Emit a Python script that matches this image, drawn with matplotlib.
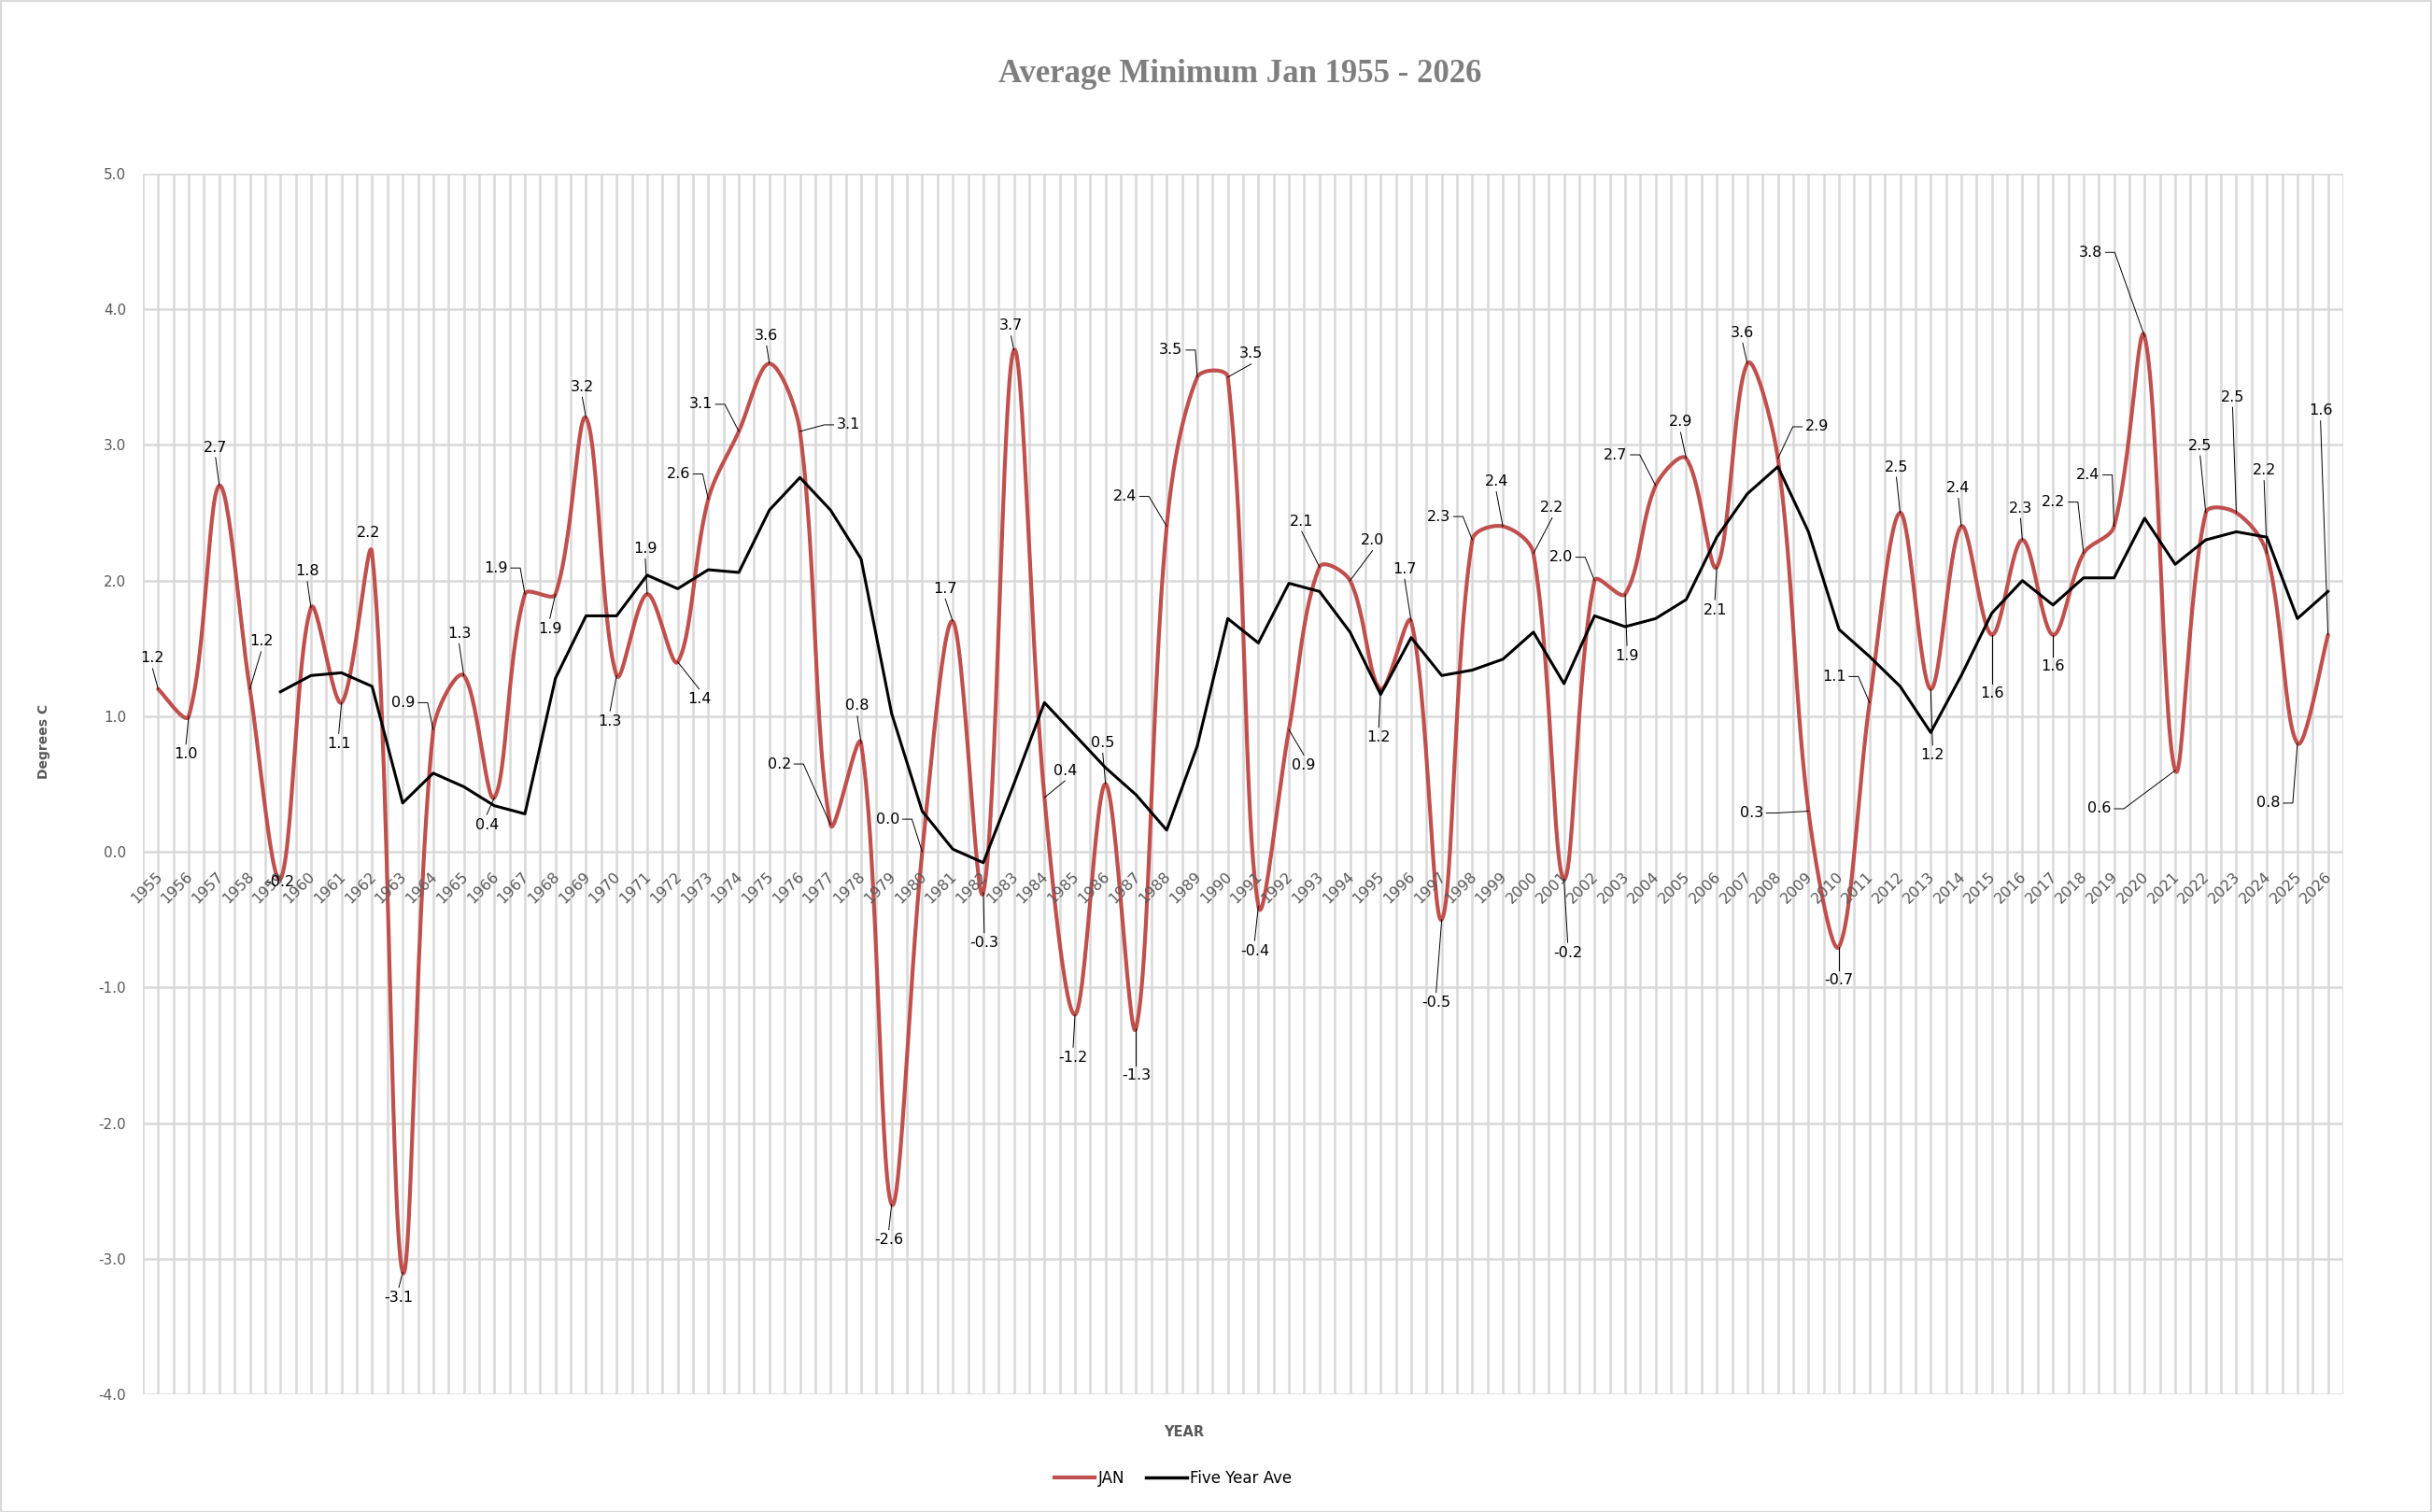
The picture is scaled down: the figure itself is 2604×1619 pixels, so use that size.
import numpy as np
import matplotlib.pyplot as plt
from matplotlib.lines import Line2D
from matplotlib.patches import Rectangle
from matplotlib.transforms import Affine2D

# categories and values
years = list(range(1955, 2027))

jan = [1.2, 1.0, 2.7, 1.2, -0.2, 1.8, 1.1, 2.2, -3.1, 0.9,
       1.3, 0.4, 1.9, 1.9, 3.2, 1.3, 1.9, 1.4, 2.6, 3.1,
       3.6, 3.1, 0.2, 0.8, -2.6, 0.0, 1.7, -0.3, 3.7, 0.4,
       -1.2, 0.5, -1.3, 2.4, 3.5, 3.5, -0.4, 0.9, 2.1, 2.0,
       1.2, 1.7, -0.5, 2.3, 2.4, 2.2, -0.2, 2.0, 1.9, 2.7,
       2.9, 2.1, 3.6, 2.9, 0.3, -0.7, 1.1, 2.5, 1.2, 2.4,
       1.6, 2.3, 1.6, 2.2, 2.4, 3.8, 0.6, 2.5, 2.5, 2.2,
       0.8, 1.6]

five_year = [np.nan, np.nan, np.nan, np.nan, 1.18, 1.30, 1.32, 1.22, 0.36, 0.58,
             0.48, 0.34, 0.28, 1.28, 1.74, 1.74, 2.04, 1.94, 2.08, 2.06,
             2.52, 2.76, 2.52, 2.16, 1.02, 0.30, 0.02, -0.08, 0.50, 1.10,
             0.86, 0.62, 0.42, 0.16, 0.78, 1.72, 1.54, 1.98, 1.92, 1.62,
             1.16, 1.58, 1.30, 1.34, 1.42, 1.62, 1.24, 1.74, 1.66, 1.72,
             1.86, 2.32, 2.64, 2.84, 2.36, 1.64, 1.44, 1.22, 0.88, 1.30,
             1.76, 2.00, 1.82, 2.02, 2.02, 2.46, 2.12, 2.30, 2.36, 2.32,
             1.72, 1.92]

# where each data label sits relative to its point (pixels, right / down)
label_offsets = [(-6, -33), (-3, 41), (-4, -41), (12, -51), (0, 3), (-4, -39), (-3, 44), (-4, -22), (-4, 27), (-32, -29),
                 (-5, -45), (-8, 29), (-31, -28), (-6, 37), (-4, -33), (-7, 49), (-2, -49), (23, 40), (-32, -27), (-41, -29),
                 (-3, -30), (52, -7), (-55, -65), (-4, -40), (-3, 38), (-37, -35), (-8, -35), (1, 54), (-3, -26), (22, -29),
                 (-2, 46), (-3, -44), (0, 51), (-45, -32), (-28, -29), (25, -25), (-4, 48), (16, 38), (-19, -49), (24, -43),
                 (-2, 52), (-7, -56), (-6, 89), (-36, -25), (-7, -48), (20, -49), (4, 79), (-36, -25), (2, 66), (-43, -33),
                 (-6, -39), (-2, 46), (-5, -33), (42, -34), (-61, 2), (0, 36), (-38, -28), (-4, -49), (2, 71), (-3, -41),
                 (0, 63), (-2, -34), (0, 34), (-32, -55), (-28, -55), (-58, -90), (-81, 41), (-6, -72), (-4, -124), (-3, -89),
                 (-31, 64), (-8, -240)]


def smooth(px, py, n=30):
    # Excel-like smoothed line, worked out in screen pixels:
    # control arms are scaled by the neighbouring segment lengths
    pts = np.column_stack([px, py]).astype(float)
    last = len(pts) - 1
    seglen = np.hypot(*np.diff(pts, axis=0).T)
    t = np.linspace(0, 1, n)[:, None]
    out = []
    for i in range(last):
        p0 = pts[max(i - 1, 0)]
        p1 = pts[i]
        p2 = pts[i + 1]
        p3 = pts[min(i + 2, last)]
        d12 = seglen[i]
        d01 = seglen[i - 1] if i > 0 else d12
        d23 = seglen[i + 1] if i + 1 < last else d12
        c1 = p1 + (p2 - p0) * (d12 / (d01 + d12)) / 3
        c2 = p2 - (p3 - p1) * (d12 / (d12 + d23)) / 3
        seg = (1 - t)**3 * p1 + 3 * (1 - t)**2 * t * c1 + 3 * (1 - t) * t**2 * c2 + t**3 * p2
        out.append(seg if i == 0 else seg[1:])
    return np.vstack(out)


W, H = 2604, 1619
fig = plt.figure(figsize=(W / 100, H / 100), dpi=100)
ax_w, ax_h = 2509 - 153, 1493 - 186
ax = fig.add_axes([153 / W, 1 - 1493 / H, ax_w / W, ax_h / H])

x = np.arange(len(years))
ax.set_xlim(-0.5, len(years) - 0.5)
ax.set_ylim(-4, 5)

grid_col = '#d9d9d9'
ax.vlines(np.arange(-0.5, len(years), 0.5), -4, 5, color=grid_col, lw=1.8, zorder=0)
ax.hlines(np.arange(-4, 6), -0.5, len(years) - 0.5, color=grid_col, lw=1.8, zorder=0)

# smooth in pixel space, then back to data units
sx = ax_w / len(years)
sy = ax_h / 9.0
curve = smooth(x * sx, np.array(jan) * sy)
ax.plot(curve[:, 0] / sx, curve[:, 1] / sy, color='#c0504d', lw=3, zorder=3, solid_capstyle='round')
ax.plot(x, five_year, color='black', lw=2.2, zorder=4)

for s in ax.spines.values():
    s.set_visible(False)
ax.set_xticks([])
ax.set_yticks(np.arange(-4, 6))
ax.set_yticklabels(['%.1f' % v for v in np.arange(-4, 6)])
ax.tick_params(axis='y', length=0, pad=13, labelsize=11, labelcolor='#595959')

# category labels sit on the zero line
for i, yr in enumerate(years):
    ax.annotate(str(yr), xy=(i, 0), xytext=(2, -24), textcoords='offset pixels',
                rotation=45, rotation_mode='anchor', ha='right', va='center',
                fontsize=11.5, color='#595959', zorder=5)

# data labels, with Excel style leader lines
for i, v in enumerate(jan):
    dx, dy = label_offsets[i]
    lx, ly = dx, -dy
    ax.annotate('%.1f' % v, xy=(i, v), xytext=(lx, ly), textcoords='offset pixels',
                ha='center', va='center', fontsize=11.5, color='black', zorder=6)
    if np.hypot(dx, dy) <= 24:
        continue
    hw = 16 if v < 0 else 13
    hh = 9
    if abs(dx) >= 28:
        # side leader: short flat stub, then on to the point
        sgn = np.sign(dx)
        sx0 = lx - sgn * (hw + 3)
        xs = [sx0, sx0 - sgn * 10, 0]
        ys = [ly, ly, 0]
    else:
        xs = [lx, 0]
        ys = [ly - np.sign(ly) * (hh + 2), 0]
    px, py = ax.transData.transform((i, v))
    ax.add_line(Line2D(xs, ys, color='black', lw=0.7, zorder=6,
                       transform=Affine2D().translate(px, py), clip_on=False))

fig.text(1328 / W, 1 - 80 / H, 'Average Minimum Jan 1955 - 2026', ha='center', va='center',
         fontfamily='Liberation Serif', fontweight='bold', fontsize=25, color='#7f7f7f')
fig.text(47 / W, 1 - 794 / H, 'Degrees C', rotation=90, ha='center', va='center',
         fontweight='bold', fontsize=10, color='#595959')
fig.text(1268 / W, 1 - 1533 / H, 'YEAR', ha='center', va='center',
         fontweight='bold', fontsize=10.5, color='#595959')

handles = [Line2D([], [], color='#c0504d', lw=3), Line2D([], [], color='black', lw=2.5)]
fig.legend(handles, ['JAN', 'Five Year Ave'], loc='center', bbox_to_anchor=(1256 / W, 1 - 1583 / H),
           ncol=2, frameon=False, fontsize=12, handlelength=2.6, handletextpad=0.2, columnspacing=1.4)

fig.patches.append(Rectangle((0.5 / W, 0.5 / H), 1 - 1.5 / W, 1 - 1.5 / H, transform=fig.transFigure,
                             fill=False, edgecolor=grid_col, lw=1.5))

fig.savefig('out.png', dpi=100)
